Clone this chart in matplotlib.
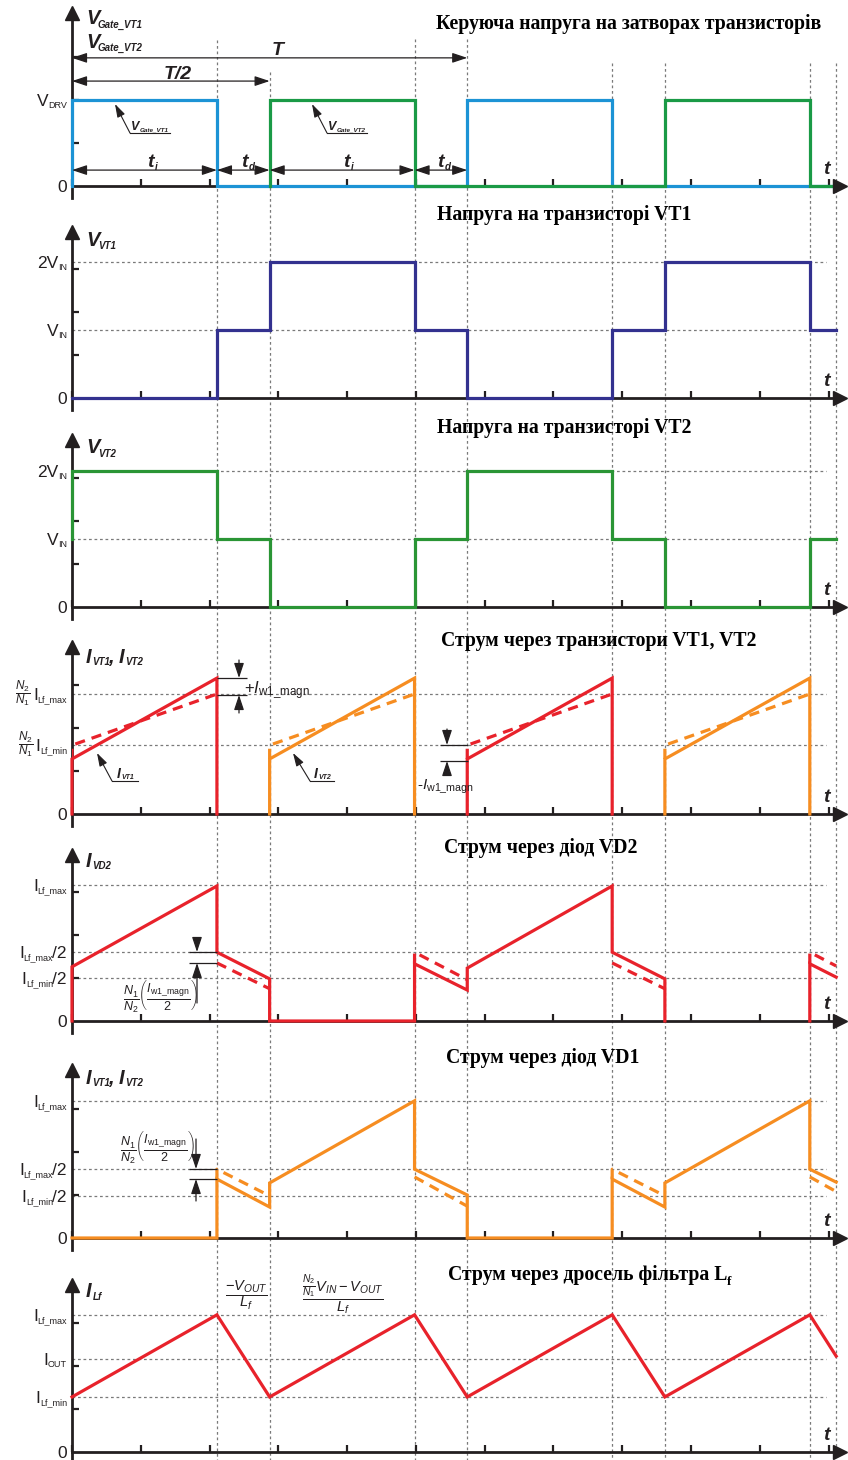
import matplotlib.pyplot as plt
from matplotlib.ticker import MultipleLocator

plt.rcParams['font.family'] = ['Liberation Sans', 'DejaVu Sans']
plt.rcParams['mathtext.fontset'] = 'custom'
plt.rcParams['mathtext.rm'] = 'Liberation Sans'
plt.rcParams['mathtext.it'] = 'Liberation Sans:italic'
plt.rcParams['mathtext.bf'] = 'Liberation Sans:bold'
plt.rcParams['mathtext.bfit'] = 'Liberation Sans:italic:bold'
plt.rcParams['mathtext.default'] = 'rm'

nan = float('nan')

# ---------------- data (time unit = dead time t_d, t_i = 2.75) ----------------
T = 7.5
t_i = 2.75
t_d = 1.0
t_sw = [2.75, 3.75, 6.5, 7.5, 10.25, 11.25, 14.0, 14.5]

# gate voltages
gate1_t = [0, 0, 2.75, 7.5, 10.25, 14.5]
gate1_v = [0, 2.0, 0, 2.0, 0, 0]
gate2_t = [3.75, 3.75, 6.5, 11.25, 14.0, 14.5]
gate2_v = [0, 2.0, 0, 2.0, 0, 0]

# transistor voltages
vt1_t = [0, 2.75, 3.75, 6.5, 7.5, 10.25, 11.25, 14.0, 14.5]
vt1_v = [0, 1.58, 3.16, 1.58, 0, 1.58, 3.16, 1.58, 1.58]
vt2_t = [0, 0, 2.75, 3.75, 6.5, 7.5, 10.25, 11.25, 14.0, 14.5]
vt2_v = [1.58, 3.16, 1.58, 0, 1.58, 3.16, 1.58, 0, 1.58, 1.58]

# transistor currents
vt1_on = [(0, 2.75), (7.5, 10.25)]
vt2_on = [(3.75, 6.5), (11.25, 14.0)]
ivt_solid = (1.28, 3.16)
ivt_dash = (1.6, 2.79)

# diode VD2 current
vd2_t = [0, 0, 2.75, 2.75, 3.75, 3.75, 6.5, 6.5, 7.5, 7.5, 10.25, 10.25, 11.25, 11.25, nan, 14.0, 14.0, 14.5]
vd2_v = [0, 1.26, 3.14, 1.6, 0.98, 0, 0, 1.33, 0.72, 1.23, 3.14, 1.6, 0.98, 0, nan, 0, 1.33, 1.02]
vd2_dash_t = [2.75, 3.75, nan, 6.5, 6.5, 7.5, nan, 10.25, 11.25, nan, 14.0, 14.0, 14.5]
vd2_dash_v = [1.35, 0.75, nan, 1.33, 1.6, 0.96, nan, 1.35, 0.75, nan, 1.33, 1.6, 1.28]

# diode VD1 current
vd1_t = [0, 2.75, 2.75, 3.75, 3.75, 6.5, 6.5, 7.5, 7.5, 10.25, 10.25, 11.25, 11.25, 14.0, 14.0, 14.5]
vd1_v = [0, 0, 1.37, 0.72, 1.28, 3.19, 1.6, 1.0, 0, 0, 1.37, 0.72, 1.28, 3.19, 1.6, 1.3]
vd1_dash_t = [2.75, 2.75, 3.75, nan, 6.5, 7.5, nan, 10.25, 10.25, 11.25, nan, 14.0, 14.5]
vd1_dash_v = [1.37, 1.6, 0.98, nan, 1.42, 0.74, nan, 1.37, 1.6, 0.98, nan, 1.42, 1.08]

# filter inductor current
ilf_t = [0, 2.75, 3.75, 6.5, 7.5, 10.25, 11.25, 14.0, 14.5]
ilf_v = [1.28, 3.19, 1.28, 3.19, 1.28, 3.19, 1.28, 3.19, 2.23]

# level labels: pieces (text, kind) with m = main, s = subscript, f = fraction
NN21 = r'$\dfrac{\mathit{N}_2}{\mathit{N}_1}$'
lv1 = [0, 2.0]
lb1 = [[('0', 'm')], [('V', 'm'), ('DRV', 's')]]
lv2 = [0, 1.58, 3.16]
lb2 = [[('0', 'm')], [('V', 'm'), ('IN', 's')], [('2V', 'm'), ('IN', 's')]]
lv4 = [0, 1.6, 2.79]
lb4 = [[('0', 'm')], [(NN21, 'f'), ('I', 'm'), ('Lf_min', 's')],
       [(NN21, 'f'), ('I', 'm'), ('Lf_max', 's')]]
lv5 = [0, 1.0, 1.6, 3.16]
lv6 = [0, 0.98, 1.6, 3.19]
lb56 = [[('0', 'm')], [('I', 'm'), ('Lf_min', 's'), ('/2', 'm')],
        [('I', 'm'), ('Lf_max', 's'), ('/2', 'm')], [('I', 'm'), ('Lf_max', 's')]]
lv7 = [0, 1.28, 2.16, 3.19]
lb7 = [[('0', 'm')], [('I', 'm'), ('Lf_min', 's')], [('I', 'm'), ('OUT', 's')],
       [('I', 'm'), ('Lf_max', 's')]]

# ---------------- style ----------------
W, H = 848, 1460
X0, X1 = 72, 840
PXT, PXY = 52.7, 43.0
AX = '#231f20'
GRID = '#7a7a7a'
BLUE = '#1c93d5'
GREEN1 = '#1a9a46'
GREEN2 = '#2a9535'
NAVY = '#33318f'
RED = '#e8222b'
ORANGE = '#f68d21'
LW = 2.3
DASH = (0, (3.2, 2.2))
# size, vertical alignment, y offset (px), extra gap before piece (px)
PART = {'m': (12.5, 'baseline', -6, 0), 's': (6.5, 'baseline', -8, 0), 'f': (8.5, 'center', 1, 3)}

fig = plt.figure(figsize=(W / 100, H / 100), dpi=100)
rend = fig.canvas.get_renderer()

bg = fig.add_axes([X0 / W, 0, (X1 - X0) / W, 1], zorder=0)
bg.set_xlim(0, (X1 - X0) / PXT)
bg.set_ylim(H, 0)
bg.axis('off')
bg.vlines(t_sw, [40, 72, 39, 39, 63, 63, 63, 63], H, colors=GRID, lw=0.9,
          linestyles=[(0, (2.2, 2.2))])


def panel(base, tip, levels, labels, grid=True):
    top = tip + 7
    bot = base + 12
    ax = fig.add_axes([X0 / W, 1 - bot / H, (X1 - X0) / W, (bot - top) / H], zorder=2)
    ax.set_xlim(0, (X1 - X0) / PXT)
    ax.set_ylim(-12 / PXY, (base - top) / PXY)
    ax.patch.set_alpha(0)
    ax.spines[['top', 'right']].set_visible(False)
    ax.spines['bottom'].set_position(('data', 0))
    for s in ['left', 'bottom']:
        ax.spines[s].set_linewidth(2.0)
        ax.spines[s].set_color(AX)
    ax.plot(1, 0, '>', ms=10, color=AX, transform=ax.get_yaxis_transform(), clip_on=False, zorder=5)
    ax.plot(0, 1, '^', ms=10, color=AX, transform=ax.get_xaxis_transform(), clip_on=False, zorder=5)
    ax.set_xticks([])
    ax.set_yticks([])
    ax.xaxis.set_minor_locator(MultipleLocator(1.305))
    ax.set_yticks([1, 2, 3], minor=True)
    ax.tick_params(which='minor', direction='in', length=5, width=1.6, color=AX)
    if grid:
        ax.hlines(levels[1:], 0, 14.3, colors=GRID, lw=0.9, linestyles=[(0, (2.2, 2.2))], zorder=1)
    # level labels, right-aligned against the axis, built piece by piece
    for lvl, parts in zip(levels, labels):
        x = -5
        for s, kind in reversed(parts):
            size, va, dy, gap = PART[kind]
            x -= gap
            t = ax.annotate(s, (0, lvl), xycoords=ax.get_yaxis_transform(), xytext=(x, dy),
                            textcoords='offset pixels', ha='right', va=va, size=size,
                            color=AX, annotation_clip=False)
            x -= t.get_window_extent(rend).width - 0.5
    return ax


ax1 = panel(186, 6, lv1, lb1, grid=False)
ax2 = panel(398, 225, lv2, lb2)
ax3 = panel(607, 433, lv2, lb2)
ax4 = panel(814, 640, lv4, lb4)
ax5 = panel(1021, 848, lv5, lb56)
ax6 = panel(1238, 1063, lv6, lb56)
ax7 = panel(1452, 1278, lv7, lb7)

kw = dict(lw=LW, clip_on=False, zorder=3, solid_joinstyle='miter')
ax1.plot(gate1_t, gate1_v, drawstyle='steps-post', color=BLUE, **kw)
ax1.plot(gate2_t, gate2_v, drawstyle='steps-post', color=GREEN1, **kw)
ax2.plot(vt1_t, vt1_v, drawstyle='steps-post', color=NAVY, **kw)
ax3.plot(vt2_t, vt2_v, drawstyle='steps-post', color=GREEN2, **kw)

for on, c in [(vt1_on, RED), (vt2_on, ORANGE)]:
    for a, b in on:
        ax4.plot([a, a, b, b], [0, ivt_solid[0], ivt_solid[1], 0], color=c, **kw)
        ax4.plot([a, a, b], [ivt_solid[0], ivt_dash[0], ivt_dash[1]], color=c, ls=DASH,
                 lw=LW, zorder=3)

ax5.plot(vd2_t, vd2_v, color=RED, **kw)
ax5.plot(vd2_dash_t, vd2_dash_v, color=RED, ls=DASH, lw=LW, zorder=3)
ax6.plot(vd1_t, vd1_v, color=ORANGE, **kw)
ax6.plot(vd1_dash_t, vd1_dash_v, color=ORANGE, ls=DASH, lw=LW, zorder=3)
ax7.plot(ilf_t, ilf_v, color=RED, **kw)


# dimension arrows for T, T/2, t_i, t_d
def dim(ax, a, b, y):
    ax.annotate('', xy=(a, y), xytext=(b, y),
                arrowprops=dict(arrowstyle='<|-|>,head_length=0.9,head_width=0.3', color=AX,
                                lw=0.9, mutation_scale=10, shrinkA=0, shrinkB=0))


dim(ax1, 0, T, 2.98)
dim(ax1, 0, T / 2, 2.44)
for a, b in [(0, t_i), (t_i, T / 2), (T / 2, T / 2 + t_i), (T / 2 + t_i, T)]:
    dim(ax1, a, b, 0.37)

# ---------------- overlay text (pixel coordinates) ----------------
ov = fig.add_axes([0, 0, 1, 1], zorder=6)
ov.set_xlim(0, W)
ov.set_ylim(H, 0)
ov.axis('off')


def bi(x, y, s, size, ha='left'):
    ov.text(x, y, s, size=size, weight='bold', style='italic', color=AX, ha=ha, va='baseline')


TT = dict(family='Liberation Serif', weight='bold', size=14.2, color='black', va='center', ha='left')
ov.text(436, 24, 'Керуюча напруга на затворах транзисторів', **TT)
ov.text(437, 215, 'Напруга на транзисторі VT1', **TT)
ov.text(437, 428, 'Напруга на транзисторі VT2', **TT)
ov.text(441, 641, 'Струм через транзистори VT1, VT2', **TT)
ov.text(444, 848, 'Струм через діод VD2', **TT)
ov.text(446, 1058, 'Струм через діод VD1', **TT)
tl = ov.text(448, 1275, 'Струм через дросель фільтра L', **TT)
ov.text(tl.get_window_extent(rend).x1, 1285, 'f', family='Liberation Serif', weight='bold',
        size=9.5, color='black', va='baseline')

# axis names
bi(86, 24, 'V', 14.5)
bi(98, 28, 'Gate_VT1', 7)
bi(86, 48, 'V', 14.5)
bi(98, 51, 'Gate_VT2', 7)
bi(86, 246, 'V', 14.5)
bi(98, 249, 'VT1', 7)
bi(86, 453, 'V', 14.5)
bi(98, 457, 'VT2', 7)
for yb in (663, 1084):
    bi(86, yb, 'I', 14.5)
    bi(92, yb + 2, 'VT1', 7)
    bi(108, yb, ',', 14.5)
    bi(119, yb, 'I', 14.5)
    bi(125, yb + 2, 'VT2', 7)
bi(86, 867, 'I', 14.5)
bi(92, 869, 'VD2', 7)
bi(86, 1297, 'I', 14.5)
bi(93, 1300, 'Lf', 7)

for base in (186, 398, 607, 814, 1021, 1238, 1452):
    bi(826, base - 12, 't', 14, ha='center')

# period labels
bi(278, 55, 'T', 14, ha='center')
bi(178, 79, 'T/2', 14, ha='center')
for x, s in [(147, 'i'), (241, 'd'), (343, 'i'), (437, 'd')]:
    bi(x, 167, 't', 14)
    bi(x + 8, 170, s, 7)


# pointer labels
def pointer(tip, elbow, end):
    ov.annotate('', xy=tip, xytext=elbow,
                arrowprops=dict(arrowstyle='-|>,head_length=0.8,head_width=0.25', color=AX,
                                lw=0.8, mutation_scale=10, shrinkA=0, shrinkB=0))
    ov.plot([elbow[0], end], [elbow[1], elbow[1]], color=AX, lw=0.8)


pointer((115, 104), (130, 133), 170)
bi(131, 130, 'V', 9)
bi(140, 131, 'Gate_VT1', 4.5)
pointer((312, 104), (327, 133), 367)
bi(328, 130, 'V', 9)
bi(337, 131, 'Gate_VT2', 4.5)
pointer((97, 753), (112, 781), 138)
bi(117, 778, 'I', 10)
bi(121, 779, 'VT1', 5)
pointer((293, 753), (310, 781), 334)
bi(314, 778, 'I', 10)
bi(318, 779, 'VT2', 5)


# magnetising current markers
def gap(x0, x1, xa, y_hi, y_lo, len_hi, len_lo):
    ov.hlines([y_hi, y_lo], x0, x1, colors=AX, lw=0.9)
    ap = dict(arrowstyle='-|>,head_length=0.9,head_width=0.3', color=AX, lw=0.9,
              mutation_scale=10, shrinkA=0, shrinkB=0)
    ov.annotate('', xy=(xa, y_hi), xytext=(xa, y_hi - len_hi), arrowprops=ap)
    ov.annotate('', xy=(xa, y_lo), xytext=(xa, y_lo + len_lo), arrowprops=ap)


NI = r'$\dfrac{\mathit{N}_1}{\mathit{N}_2}\left(\dfrac{\mathit{I}_{w1\_magn}}{2}\right)$'
gap(217, 247, 239, 678, 695, 18, 18)
ov.text(244, 693, r'+$\mathit{I}_{w1\_magn}$', size=12, color=AX, va='baseline')
gap(440, 468, 447, 745, 761, 16, 14)
ov.text(417, 790, r'-$\mathit{I}_{w1\_magn}$', size=11, color=AX, va='baseline')
gap(189, 217, 197, 952, 963, 13, 40)
ov.text(160, 997, NI, size=9, color=AX, ha='center', va='center')
gap(189, 217, 196, 1169, 1179, 30, 22)
ov.text(157, 1148, NI, size=9, color=AX, ha='center', va='center')

# slopes of I_Lf
ov.text(246, 1295, r'$\dfrac{-\mathit{V}_{\mathit{OUT}}}{\mathit{L}_{\mathit{f}}}$', size=10.5,
        color=AX, ha='center', va='center')
ov.text(343, 1295, r'$\dfrac{\frac{\mathit{N}_2}{\mathit{N}_1}\mathit{V}_{\mathit{IN}}-\mathit{V}_{\mathit{OUT}}}'
                   r'{\mathit{L}_{\mathit{f}}}$', size=10.5, color=AX, ha='center', va='center')

fig.savefig('out.png', dpi=100)
